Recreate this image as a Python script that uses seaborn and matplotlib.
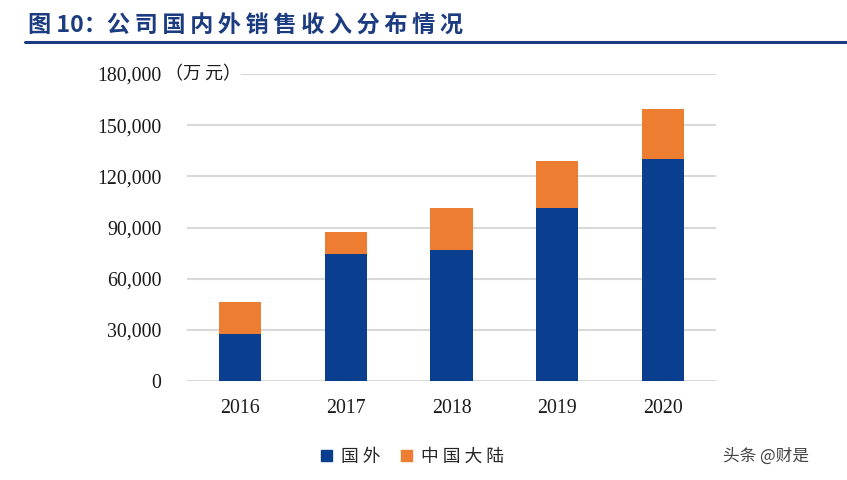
# Company revenue split: overseas vs mainland China, stacked bars 2016-2020
import matplotlib
matplotlib.use("Agg")
import matplotlib.pyplot as plt
import matplotlib.lines as mlines
import matplotlib.patches as mpatches
import seaborn as sb
import pandas as pd

# Data (万元)
years = ["2016", "2017", "2018", "2019", "2020"]
overseas = [27500, 74300, 77000, 101600, 130000]   # 国外
mainland = [18600, 12900, 24600, 27500, 29300]     # 中国大陆
yticks = [0, 30000, 60000, 90000, 120000, 150000, 180000]

blue = "#0A3F8F"
orange = "#ED7D31"
title_blue = "#1B3C80"

df = pd.DataFrame({"year": years, "overseas": overseas, "mainland": mainland})
df["total"] = df["overseas"] + df["mainland"]

sb.set_theme(style="white")
plt.rcParams["font.family"] = ["Noto Sans CJK SC", "DejaVu Sans"]

fig = plt.figure(figsize=(8.47, 4.8), dpi=100)
ax = fig.add_axes([0.221, 0.206, 0.624, 0.640])

# stacked: draw total in orange, overseas in blue over it
sb.barplot(data=df, x="year", y="total", color=orange, width=0.4, ax=ax,
           saturation=1, linewidth=0, edgecolor="none")
sb.barplot(data=df, x="year", y="overseas", color=blue, width=0.4, ax=ax,
           saturation=1, linewidth=0, edgecolor="none")

ax.set_ylim(0, 180000)
ax.set_yticks(yticks)
ax.set_yticklabels([f"{v:,}" for v in yticks], fontfamily="Liberation Serif", fontsize=14.3)
ax.set_xticks(range(len(years)))
ax.set_xticklabels(years, fontfamily="Liberation Serif", fontsize=14.3)
ax.tick_params(axis="y", length=0, pad=18.5, colors="#1a1a1a")
ax.tick_params(axis="x", length=0, pad=13, colors="#1a1a1a")
ax.set_xlabel("")
ax.set_ylabel("")
ax.grid(axis="y", color="#D9D9D9", linewidth=1.5)
ax.set_axisbelow(True)
for s in ax.spines.values():
    s.set_visible(False)

# unit after the top tick label (white box hides the start of the gridline)
ax.text(-0.042, 1.0, "（万 元）", transform=ax.transAxes, ha="left", va="center",
        fontsize=13, color="#1a1a1a", zorder=5,
        bbox=dict(facecolor="white", edgecolor="none", pad=0))

# title and rule
title = "图 10：" + "\u2009".join("公司国内外销售收入分布情况")
fig.text(0.033, 0.947, title, fontsize=16.7, fontweight="bold",
         color=title_blue, ha="left", va="center")
fig.add_artist(mlines.Line2D([0.029, 1.0], [0.912, 0.912], color=title_blue, linewidth=2.2))

# legend
handles = [mpatches.Patch(color=blue, label="国 外"), mpatches.Patch(color=orange, label="中 国 大 陆")]
fig.legend(handles=handles, loc="center", bbox_to_anchor=(0.487, 0.048), ncol=2, frameon=False,
           fontsize=12.8, handlelength=0.6, handleheight=0.6, handletextpad=0.5, columnspacing=1.2)

# watermark
fig.text(0.955, 0.05, "头条 @财是", fontsize=12, color="#444444", ha="right", va="center")

fig.savefig("out.png", dpi=100)
